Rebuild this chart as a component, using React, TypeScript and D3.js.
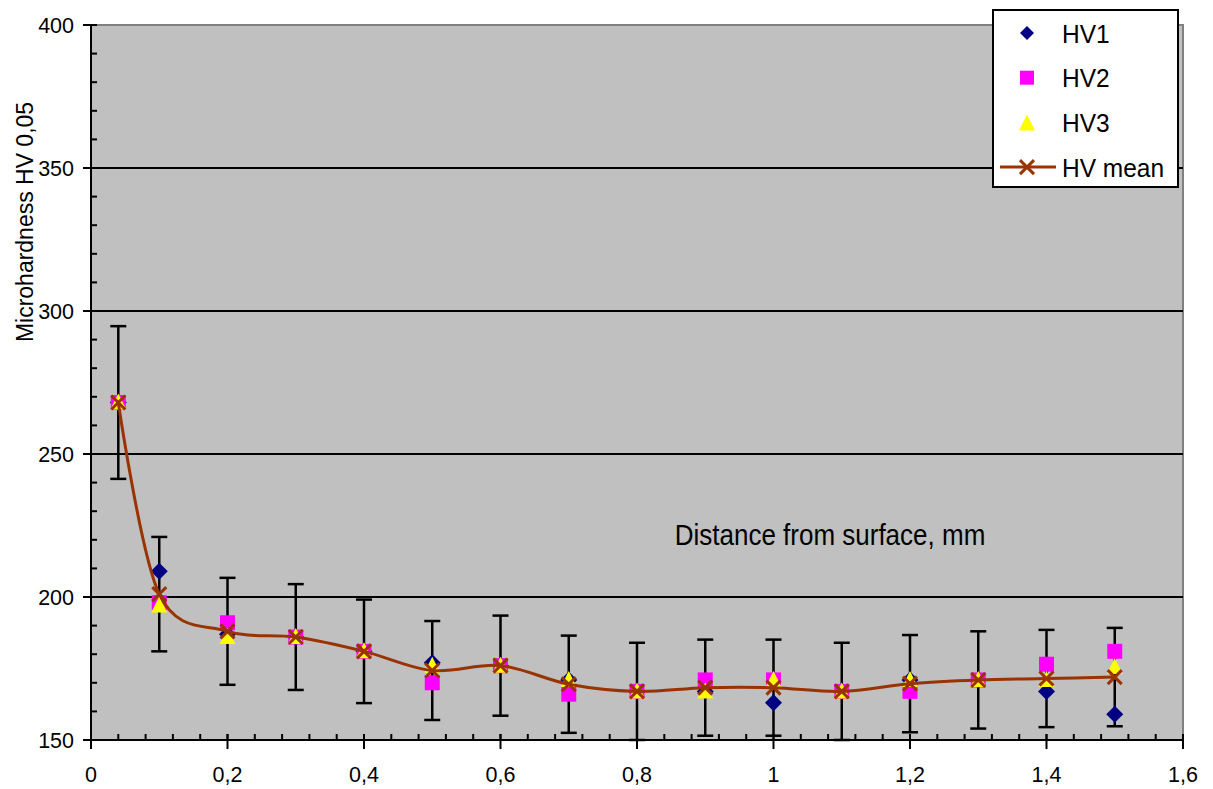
import React from "react";
import * as d3 from "d3";

const distances = [0.04, 0.1, 0.2, 0.3, 0.4, 0.5, 0.6, 0.7, 0.8, 0.9, 1.0, 1.1, 1.2, 1.3, 1.4, 1.5];
const hv1 = [268, 209, 187, 186, 181, 177, 176, 171, 167, 167, 163, 167, 171, 171, 167, 159];
const hv2 = [268, 198, 191, 186, 181, 170, 176, 166, 167, 171, 171, 167, 167, 171, 176.5, 181];
const hv3 = [268, 197, 186, 186, 181, 176, 176, 171, 167, 167, 171, 167, 171, 171, 171, 175.5];
const hvMean = [268, 201, 188, 186, 181, 174.3, 176, 169.5, 167, 168.3, 168.3, 167, 169.7, 171, 171.5, 172];
const hvErr = [26.7, 20, 18.7, 18.5, 18.1, 17.3, 17.5, 17, 17, 16.8, 16.8, 17, 17, 17, 17, 17.2];

const xTicks = [0, 0.2, 0.4, 0.6, 0.8, 1, 1.2, 1.4, 1.6];
const yTicks = [150, 200, 250, 300, 350, 400];
const legendItems = ["HV1", "HV2", "HV3", "HV mean"];

const W = 1213, H = 789;
const L = 91, R = 1183, T = 25, B = 740;
const FONT = "'Liberation Sans', Arial, sans-serif";

const C1 = "#000080", C2 = "#FF00FF", C3 = "#FFFF00", CM = "#993300";

function Diamond({ x, y, s = 8.5 }: any) {
  return <path d={`M${x},${y - s}L${x + s},${y}L${x},${y + s}L${x - s},${y}Z`} fill={C1} />;
}
function Square({ x, y, s = 7.5 }: any) {
  return <rect x={x - s} y={y - s} width={2 * s} height={2 * s} fill={C2} />;
}
function Tri({ x, y, s = 8 }: any) {
  return <path d={`M${x},${y - s - 1}L${x + s},${y + s - 1}L${x - s},${y + s - 1}Z`} fill={C3} />;
}
function XMark({ x, y, s = 7 }: any) {
  return (
    <path d={`M${x - s},${y - s}L${x + s},${y + s}M${x - s},${y + s}L${x + s},${y - s}`} stroke={CM} strokeWidth={3} fill="none" />
  );
}

export default function App() {
  const x = d3.scaleLinear().domain([0, 1.6]).range([L, R]);
  const y = d3.scaleLinear().domain([150, 400]).range([B, T]);
  const minorX = d3.range(0, 1.6001, 0.04);
  const minorY = d3.range(150, 400.001, 10);
  const line = d3
    .line<number>()
    .x((_, i) => x(distances[i]))
    .y((d) => y(d))
    .curve(d3.curveCardinal.tension(0));

  return (
    <svg width={W} height={H} style={{ position: "absolute", left: 0, top: 0, background: "#fff" }} fontFamily={FONT}>
      <rect x={L} y={T} width={R - L} height={B - T} fill="#C0C0C0" />
      <path d={`M${L},${T}H${R}V${B}`} stroke="#808080" strokeWidth={2} fill="none" />
      {yTicks.filter((t) => t > 150 && t < 400).map((t) => (
        <line key={"g" + t} x1={L} x2={R} y1={y(t)} y2={y(t)} stroke="#000" strokeWidth={2} />
      ))}
      {/* axes */}
      <line x1={L} x2={L} y1={T} y2={B} stroke="#000" strokeWidth={2} />
      <line x1={L} x2={R} y1={B} y2={B} stroke="#000" strokeWidth={2} />
      {minorY.map((t) => (
        <line key={"my" + t} x1={L} x2={L + 6} y1={y(t)} y2={y(t)} stroke="#000" strokeWidth={2} />
      ))}
      {yTicks.map((t) => (
        <line key={"My" + t} x1={L - 8} x2={L + 6} y1={y(t)} y2={y(t)} stroke="#000" strokeWidth={2} />
      ))}
      {minorX.map((t, i) => (
        <line key={"mx" + i} x1={x(t)} x2={x(t)} y1={B - 6} y2={B} stroke="#000" strokeWidth={2} />
      ))}
      {xTicks.map((t) => (
        <line key={"Mx" + t} x1={x(t)} x2={x(t)} y1={B - 6} y2={B + 9} stroke="#000" strokeWidth={2} />
      ))}
      {yTicks.map((t) => (
        <text key={"ly" + t} x={74} y={y(t)} dy="0.36em" textAnchor="end" fontSize={21.5} fill="#000">
          {t}
        </text>
      ))}
      {xTicks.map((t) => (
        <text key={"lx" + t} x={x(t)} y={782} textAnchor="middle" fontSize={21.5} fill="#000">
          {String(t).replace(".", ",")}
        </text>
      ))}
      <text transform={`translate(33,222) rotate(-90) scale(1,1.08)`} textAnchor="middle" fontSize={23} fill="#000">
        Microhardness HV 0,05
      </text>
      <text transform={`translate(830,545) scale(1,1.1)`} textAnchor="middle" fontSize={26} fill="#000">
        Distance from surface, mm
      </text>

      {/* error bars */}
      {distances.map((d, i) => {
        const cx = x(d);
        const y1 = y(hvMean[i] + hvErr[i]);
        const y2 = y(hvMean[i] - hvErr[i]);
        return (
          <g key={"e" + i} stroke="#000" strokeWidth={2.5}>
            <line x1={cx} x2={cx} y1={y1} y2={y2} />
            <line x1={cx - 8} x2={cx + 8} y1={y1} y2={y1} />
            <line x1={cx - 8} x2={cx + 8} y1={y2} y2={y2} />
          </g>
        );
      })}
      {distances.map((d, i) => <Diamond key={"a" + i} x={x(d)} y={y(hv1[i])} />)}
      {distances.map((d, i) => <Square key={"b" + i} x={x(d)} y={y(hv2[i])} />)}
      {distances.map((d, i) => <Tri key={"c" + i} x={x(d)} y={y(hv3[i])} />)}
      <path d={line(hvMean) || ""} stroke={CM} strokeWidth={3} fill="none" />
      {distances.map((d, i) => <XMark key={"m" + i} x={x(d)} y={y(hvMean[i])} />)}

      {/* legend */}
      <rect x={993} y={10} width={185} height={177} fill="#fff" stroke="#000" strokeWidth={2} />
      {legendItems.map((name, i) => {
        const cy = 33 + i * 44.7;
        return (
          <g key={name}>
            {i === 0 && <Diamond x={1027} y={cy} s={7} />}
            {i === 1 && <Square x={1027} y={cy} s={7} />}
            {i === 2 && <Tri x={1027} y={cy + 1} s={8} />}
            {i === 3 && (
              <g>
                <line x1={1000} x2={1056} y1={cy} y2={cy} stroke={CM} strokeWidth={3} />
                <XMark x={1027} y={cy} s={7} />
              </g>
            )}
            <text transform={`translate(1062,${cy}) scale(1,1.08)`} dy="0.36em" fontSize={24.5} fill="#000">
              {name}
            </text>
          </g>
        );
      })}
    </svg>
  );
}
